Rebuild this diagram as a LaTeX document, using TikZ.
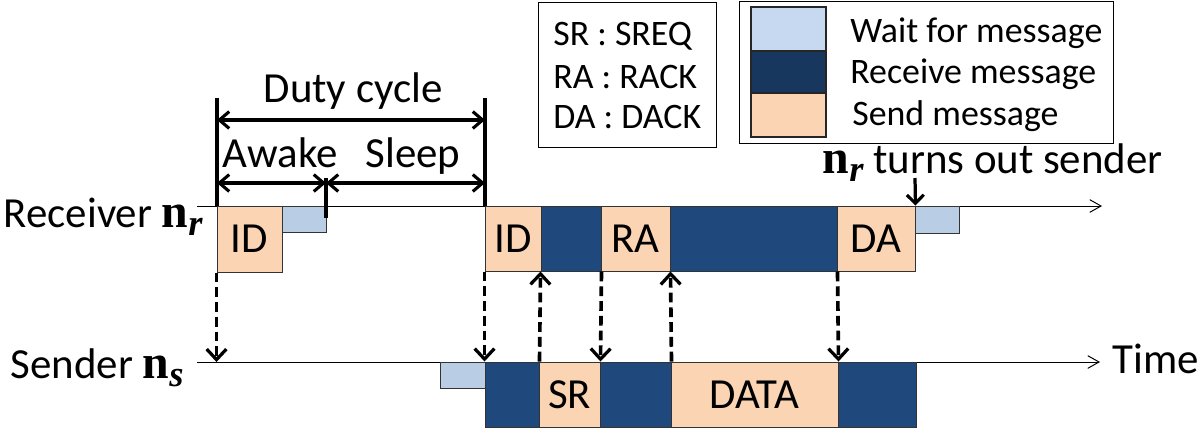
\documentclass[tikz,border=0pt]{standalone}
\usepackage{fontspec}
\setmainfont{Carlito}
\newfontfamily\serifm{Liberation Serif}
\usetikzlibrary{fit,arrows.meta}
\definecolor{sendc}{HTML}{FBD4B4}
\definecolor{recvc}{HTML}{1F497D}
\definecolor{waitc}{HTML}{B9CDE5}
\definecolor{recvleg}{HTML}{17375E}
\definecolor{waitleg}{HTML}{C6D9F1}
\newcommand\mainfs{\fontsize{30.5}{34}\selectfont}
\newcommand\legfs{\fontsize{25.5}{28}\selectfont}
\newcommand\nsub[1]{{\fontsize{34}{35}\selectfont\serifm\bfseries n}\raisebox{-6pt}{\fontsize{26}{27}\selectfont\serifm\bfseries\itshape #1}}
\newcommand\blk[4]{\node[#2, inner sep=0pt, fit={#3}, label={[font=\mainfs]center:#4}] (#1) {};}
\tikzset{
  sendbox/.style={draw=black!80, line width=0.7pt, fill=sendc},
  recvbox/.style={draw=black!80, line width=0.7pt, fill=recvc},
  waitbox/.style={draw=black!80, line width=0.7pt, fill=waitc},
  legbox/.style={draw=black, line width=0.7pt},
  swatch/.style={draw=black!85, line width=1pt, inner sep=0pt},
  timeline/.style={line width=0.7pt, -{Straight Barb[length=8pt,width=9pt,line width=0.7pt]}},
  msgarrow/.style={line width=2.6pt, dash pattern=on 7pt off 3.5pt, -{Straight Barb[length=7.5pt,width=14pt,line width=2.3pt]}},
  dimarrow/.style={line width=2.3pt, {Straight Barb[length=7pt,width=12pt,line width=2.2pt]}-{Straight Barb[length=7pt,width=12pt,line width=2.2pt]}},
  tick/.style={line width=2.8pt},
  solidarrow/.style={line width=2.3pt, -{Straight Barb[length=6pt,width=12pt,line width=2.2pt]}},
  lbl/.style={font=\mainfs, inner sep=0pt},
  leglbl/.style={font=\legfs, inner sep=0pt, anchor=base west}
}
\begin{document}
\begin{tikzpicture}[x=0.025cm, y=-0.025cm]
\useasboundingbox (0,0) rectangle (1200,429);
% timelines
\coordinate (r0) at (197,206);
\coordinate (r1) at (1102,206);
\coordinate (s0) at (197,362);
\coordinate (s1) at (1100,362);
\draw[timeline] (r0) -- (r1);
\draw[timeline] (s0) -- (s1);
% receiver blocks
\blk{rid1}{sendbox}{(217,206)(282,272)}{ID}
\blk{rw1}{waitbox}{(282,206)(326,232)}{}
\blk{rid2}{sendbox}{(485,206)(541,271)}{ID}
\blk{rdark1}{recvbox}{(541,206)(601,271)}{}
\blk{rra}{sendbox}{(601,206)(670,271)}{RA}
\blk{rdark2}{recvbox}{(670,206)(837,271)}{}
\blk{rda}{sendbox}{(837,206)(915,271)}{DA}
\blk{rw2}{waitbox}{(915,206)(959,233)}{}
% sender blocks
\blk{sw1}{waitbox}{(440,362)(485,388)}{}
\blk{sdark1}{recvbox}{(485,362)(539,427)}{}
\blk{ssr}{sendbox}{(539,362)(600,427)}{SR}
\blk{sdark2}{recvbox}{(600,362)(671,427)}{}
\blk{sdata}{sendbox}{(671,362)(838,427)}{DATA}
\blk{sdark3}{recvbox}{(838,362)(916,427)}{}
% labels
\node[lbl, anchor=base east] (recv) at (203,227) {Receiver \nsub{r}};
\node[lbl, anchor=base east] (send) at (184,378) {Sender \nsub{s}};
\node[lbl, anchor=base west] (time) at (1112,373) {Time};
% duty cycle
\coordinate (dcLt) at (217,98);
\coordinate (dcRt) at (485,98);
\coordinate (dcL) at (217,206);
\coordinate (dcR) at (485,206);
\coordinate (awT) at (326,178);
\coordinate (awB) at (326,218);
\draw[tick] (dcLt) -- (dcL);
\draw[tick] (dcRt) -- (dcR);
\draw[tick] (awT) -- (awB);
\coordinate (d1) at (217,120);
\coordinate (d2) at (485,120);
\coordinate (a1) at (217,183);
\coordinate (a2) at (326,183);
\coordinate (a3) at (485,183);
\draw[dimarrow] (d1) -- (d2);
\draw[dimarrow] (a1) -- (a2);
\draw[dimarrow] (a2) -- (a3);
\node[lbl, anchor=base] (duty) at (353,102) {Duty cycle};
\node[lbl, anchor=base] (awake) at (280,167) {Awake};
\node[lbl, anchor=base] (sleep) at (413,167) {Sleep};
% message arrows
\draw[msgarrow] (rid1.south west) -- (rid1.south west |- s0);
\draw[msgarrow] (rid2.south west) -- (sdark1.north west);
\draw[msgarrow] (sdark1.north east) -- (rdark1.south west);
\draw[msgarrow] (rdark1.south east) -- (ssr.north east);
\draw[msgarrow] (sdark2.north east) -- (rra.south east);
\draw[msgarrow] (rdark2.south east) -- (sdata.north east);
% turns out sender
\node[lbl, anchor=base east] (turns) at (1163,173) {\nsub{r} turns out sender};
\coordinate (tA) at (915,178);
\draw[solidarrow] (tA) -- (rda.north east);
% legend 1
\node[legbox, inner sep=0pt, fit={(538,2)(716,147)}] (leg1) {};
\node[leglbl] (l1a) at (553,45) {SR : SREQ};
\node[leglbl] (l1b) at (553,88) {RA : RACK};
\node[leglbl] (l1c) at (553,128) {DA : DACK};
% legend 2
\node[legbox, inner sep=0pt, fit={(739,1)(1113,143)}] (leg2) {};
\node[swatch, fill=waitleg, fit={(751,7)(826,51)}] (sw1) {};
\node[swatch, fill=recvleg, fit={(751,51)(826,93)}] (sw2) {};
\node[swatch, fill=sendc, fit={(751,93)(826,137)}] (sw3) {};
\node[leglbl] (l2a) at (850,42) {Wait for message};
\node[leglbl] (l2b) at (850,83) {Receive message};
\node[leglbl] (l2c) at (852,125) {Send message};
\end{tikzpicture}
\end{document}
